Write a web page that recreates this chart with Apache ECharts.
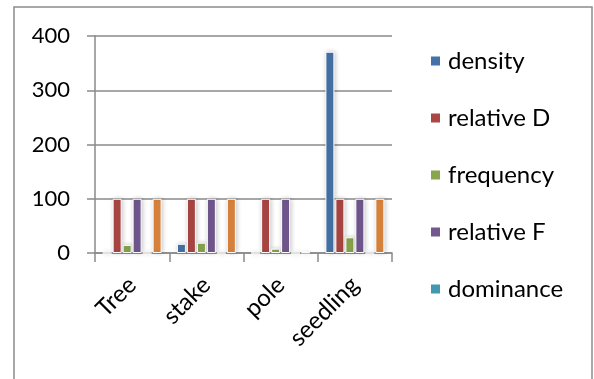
<!DOCTYPE html>
<html><head><meta charset="utf-8">
<script src="https://cdn.jsdelivr.net/npm/echarts@6/dist/echarts.min.js"></script>
<style>html,body{margin:0;padding:0;background:#fff}#c{width:594px;height:379px}</style>
</head><body><div id="c"></div>
<script>
const categories = ['Tree', 'stake', 'pole', 'seedling'];
const seriesNames = ['density', 'relative D', 'frequency', 'relative F', 'dominance', 'relative Dom'];
const density = [0, 17, 0, 371];
const relativeD = [100, 100, 100, 100];
const frequency = [15, 19, 8, 29];
const relativeF = [100, 100, 100, 100];
const dominance = [0, 0, 0, 0];
const relativeDom = [100, 100, 1, 100];
const yTicks = [0, 100, 200, 300, 400];
const colors = ['#4572A7', '#AA4643', '#89A54E', '#71588F', '#4198AF', '#DB843D'];
const values = [density, relativeD, frequency, relativeF, dominance, relativeDom];

const chart = echarts.init(document.getElementById('c'));
const font = 'Lato, "Liberation Sans", sans-serif';
chart.setOption({
  animation: false,
  color: colors,
  textStyle: { fontFamily: font },
  graphic: [{
    type: 'rect', shape: { x: 14, y: 7, width: 578, height: 400 },
    style: { fill: 'none', stroke: '#8c8c8c', lineWidth: 1.5 }, silent: true, z: -1
  }],
  grid: { left: 95, right: 202, top: 36, bottom: 126 },
  legend: {
    orient: 'vertical', left: 424, top: 44,
    data: seriesNames.slice(0, 5),
    itemWidth: 11, itemHeight: 11, itemGap: 33,
    icon: 'rect',
    textStyle: { fontSize: 24, color: '#000', fontFamily: font, padding: [0, 0, 0, 2] }
  },
  xAxis: {
    type: 'category', data: categories,
    axisLine: { lineStyle: { color: '#8a8a8a', width: 1.5 } },
    axisTick: { show: true, length: 9, lineStyle: { color: '#8a8a8a', width: 1.5 } },
    axisLabel: { rotate: 45, fontSize: 24, color: '#000', margin: 28, fontFamily: font }
  },
  yAxis: {
    type: 'value', min: yTicks[0], max: yTicks[yTicks.length - 1], interval: 100,
    axisLine: { show: true, lineStyle: { color: '#8a8a8a', width: 1.5 } },
    axisTick: { show: true, length: 8, lineStyle: { color: '#8a8a8a', width: 1.5 } },
    splitLine: { lineStyle: { color: '#8a8a8a', width: 1.5 } },
    axisLabel: { fontSize: 22, color: '#000', margin: 25, fontFamily: font }
  },
  series: seriesNames.map((n, i) => ({
    name: n, type: 'bar', data: values[i],
    barWidth: 9, barGap: '11%',
    itemStyle: {
      color: colors[i], borderColor: '#fff', borderWidth: 1,
      shadowColor: 'rgba(0,0,0,0.22)', shadowBlur: 5, shadowOffsetX: 1, shadowOffsetY: 0
    }
  }))
});
</script></body></html>
